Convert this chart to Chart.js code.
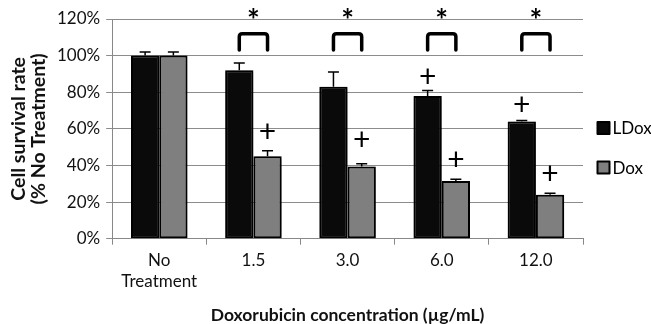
<!DOCTYPE html>
<html>
<head>
<meta charset="utf-8">
<script src="https://cdn.jsdelivr.net/npm/chart.js@4.4.0/dist/chart.umd.min.js"></script>
<style>
  html, body { margin: 0; padding: 0; background: #fff; }
  #wrap { width: 651px; height: 324px; }
</style>
</head>
<body>
<div id="wrap"><canvas id="myChart" width="651" height="324"></canvas></div>
<script>
// values
const categories = [['No', 'Treatment'], '1.5', '3.0', '6.0', '12.0'];
const ldoxValues = [100, 92, 83, 78, 64];
const ldoxErrors = [2, 4, 8, 3, 0.5];
const doxValues = [100, 45, 39.5, 31.5, 24];
const doxErrors = [2, 3, 1.5, 1, 0.8];
const yTicks = [0, 20, 40, 60, 80, 100, 120];

// significance marks (in % units)
const starCategories = [1, 2, 3, 4];
const starLevel = 123;
const bracketTop = 112;
const bracketBottom = 103;
const plusLDox = [null, null, null, 88, 73];
const plusDox = [null, 58, 54, 43, 35];

const FONT = 'Lato, "Open Sans", sans-serif';

const overlay = {
    id: 'overlay',
    beforeDatasetDraw(chart) {
        const ctx = chart.ctx;
        ctx.save();
        ctx.shadowColor = 'rgba(0,0,0,0.55)';
        ctx.shadowBlur = 5;
        ctx.shadowOffsetX = 1;
        ctx.shadowOffsetY = 1;
    },
    afterDatasetDraw(chart) {
        chart.ctx.restore();
    },
    afterDatasetsDraw(chart) {
        const ctx = chart.ctx;
        const y = chart.scales.y;
        const errs = [ldoxErrors, doxErrors];
        ctx.save();
        ctx.strokeStyle = '#000';
        ctx.lineWidth = 1.5;
        errs.forEach((e, di) => {
            const meta = chart.getDatasetMeta(di);
            const vals = chart.data.datasets[di].data;
            meta.data.forEach((bar, i) => {
                const top = y.getPixelForValue(vals[i] + e[i]);
                ctx.beginPath();
                ctx.moveTo(bar.x, bar.y);
                ctx.lineTo(bar.x, top);
                ctx.moveTo(bar.x - 5.5, top);
                ctx.lineTo(bar.x + 5.5, top);
                ctx.stroke();
            });
        });

        // brackets and stars
        const m0 = chart.getDatasetMeta(0), m1 = chart.getDatasetMeta(1);
        ctx.lineWidth = 3.5;
        ctx.lineJoin = 'round';
        ctx.lineCap = 'round';
        ctx.fillStyle = '#000';
        ctx.textAlign = 'center';
        ctx.textBaseline = 'middle';
        starCategories.forEach(i => {
            const x1 = m0.data[i].x, x2 = m1.data[i].x;
            const yt = y.getPixelForValue(bracketTop), yb = y.getPixelForValue(bracketBottom);
            ctx.beginPath();
            ctx.moveTo(x1, yb);
            ctx.lineTo(x1, yt + 3);
            ctx.quadraticCurveTo(x1, yt, x1 + 3, yt);
            ctx.lineTo(x2 - 3, yt);
            ctx.quadraticCurveTo(x2, yt, x2, yt + 3);
            ctx.lineTo(x2, yb);
            ctx.stroke();
            ctx.font = 'bold 30px ' + FONT;
            ctx.fillText('*', (x1 + x2) / 2, y.getPixelForValue(starLevel) + 8);
        });

        // plus marks
        ctx.font = '30px ' + FONT;
        [[m0, plusLDox], [m1, plusDox]].forEach(([meta, marks]) => {
            marks.forEach((v, i) => {
                if (v === null) return;
                ctx.fillText('+', meta.data[i].x, y.getPixelForValue(v));
            });
        });

        // legend
        const lx = chart.chartArea.right + 14.5;
        const rows = [[chart.data.datasets[0], 128], [chart.data.datasets[1], 167.5]];
        ctx.font = '17px ' + FONT;
        ctx.textAlign = 'left';
        ctx.lineWidth = 2;
        rows.forEach(([ds, ly]) => {
            ctx.fillStyle = ds.backgroundColor;
            ctx.fillRect(lx, ly - 6, 12, 12);
            ctx.strokeStyle = '#000';
            ctx.strokeRect(lx, ly - 6, 12, 12);
            ctx.fillStyle = '#000';
            ctx.fillText(ds.label, lx + 15, ly + 1);
        });
        ctx.restore();
    }
};

const data = {
    labels: categories,
    datasets: [{
        label: 'LDox',
        data: ldoxValues,
        backgroundColor: '#0a0a0a',
        borderColor: '#000',
        borderWidth: 2,
        borderSkipped: false
    }, {
        label: 'Dox',
        data: doxValues,
        backgroundColor: '#7f7f7f',
        borderColor: '#000',
        borderWidth: 2,
        borderSkipped: false
    }]
};

const ctx = document.getElementById('myChart').getContext('2d');
const myChart = new Chart(ctx, {
    type: 'bar',
    data: data,
    plugins: [overlay],
    options: {
        responsive: false,
        animation: false,
        events: [],
        layout: { padding: { top: 19, right: 68, left: 8, bottom: 0 } },
        datasets: { bar: { categoryPercentage: 0.6, barPercentage: 1.0 } },
        plugins: {
            legend: { display: false },
            tooltip: { enabled: false }
        },
        scales: {
            x: {
                grid: { drawOnChartArea: false, drawTicks: true, tickLength: 6, color: '#888', offset: true },
                border: { color: '#888', width: 1 },
                ticks: { color: '#111', font: { family: FONT, size: 17 }, padding: 6, maxRotation: 0 },
                title: {
                    display: true,
                    text: 'Doxorubicin concentration (µg/mL)',
                    color: '#111',
                    font: { family: FONT, size: 17.5, weight: 'bold', lineHeight: 1.0 },
                    padding: { top: 9, bottom: 0 }
                }
            },
            y: {
                min: 0,
                max: 120,
                afterBuildTicks: axis => { axis.ticks = yTicks.map(v => ({ value: v })); },
                grid: { color: '#8c8c8c', lineWidth: 1, tickLength: 6 },
                border: { color: '#888', width: 1 },
                ticks: {
                    color: '#111',
                    font: { family: FONT, size: 17 },
                    padding: 6,
                    callback: v => v + '%'
                },
                title: {
                    display: true,
                    text: ['Cell survival rate', '(% No Treatment)'],
                    color: '#111',
                    font: { family: FONT, size: 19.5, weight: 'bold', lineHeight: 1.05 },
                    padding: { top: 0, bottom: 2 }
                }
            }
        }
    }
});
</script>
</body>
</html>
